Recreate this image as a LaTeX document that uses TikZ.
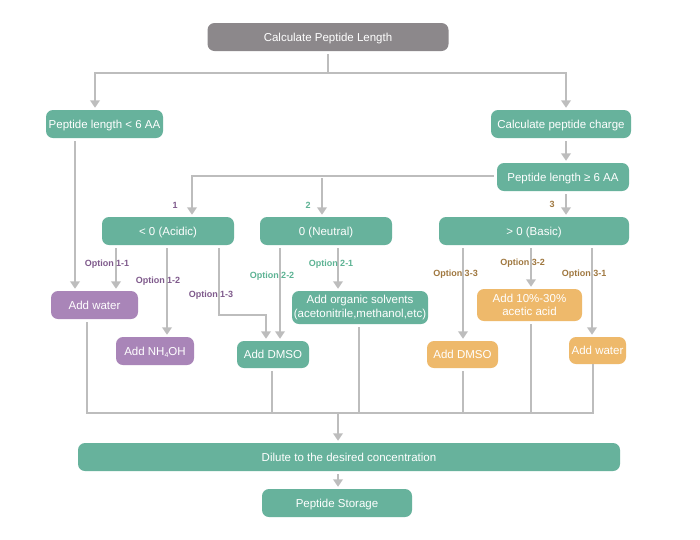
\documentclass[tikz,border=0pt]{standalone}
\usepackage{fontspec}
\setmainfont{Liberation Sans}
\usetikzlibrary{arrows.meta}
\definecolor{cgreen}{HTML}{67B29C}
\definecolor{cpurple}{HTML}{A985B8}
\definecolor{corange}{HTML}{EEB96B}
\definecolor{cgray}{HTML}{8C888B}
\definecolor{cline}{HTML}{BDBDBD}
\definecolor{tpurple}{HTML}{7F5A8C}
\definecolor{tgreen}{HTML}{5DB394}
\definecolor{tbrown}{HTML}{A07840}
\begin{document}
\begin{tikzpicture}[x=1pt,y=-1pt,
  box/.style={rounded corners=7pt, inner sep=0pt, text=white, font=\fontsize{11.5}{13.5}\selectfont, align=center, minimum height=28pt},
  oneline/.style={text height=9.5pt, text depth=1.3pt},
  gbox/.style={box, fill=cgreen},
  pbox/.style={box, fill=cpurple},
  obox/.style={box, fill=corange},
  graybox/.style={box, fill=cgray},
  ln/.style={draw=cline, line width=2.8pt, shorten <=3pt},
  arr/.style={ln, -{Triangle[width=9.5pt,length=7.5pt]}, shorten >=2pt},
  lab/.style={font=\fontsize{9}{10}\bfseries\selectfont, inner sep=0pt}]
\fill[white] (0,0) rectangle (700,539);
\useasboundingbox (0,0) rectangle (700,539);

% nodes
\node[graybox, oneline, minimum width=241pt] (top) at (328,37) {Calculate Peptide Length};
\node[gbox, oneline, minimum width=117pt] (lt6) at (104.5,124) {Peptide length < 6 AA};
\node[gbox, oneline, minimum width=140pt] (charge) at (561,124) {Calculate peptide charge};
\node[gbox, oneline, minimum width=132pt] (ge6) at (563,177) {Peptide length ≥ 6 AA};
\node[gbox, oneline, minimum width=132pt] (acidic) at (168,231) {< 0 (Acidic)};
\node[gbox, oneline, minimum width=132pt] (neutral) at (326,231) {0 (Neutral)};
\node[gbox, oneline, minimum width=190pt] (basic) at (534,231) {> 0 (Basic)};
\node[pbox, oneline, minimum width=87pt] (water1) at (94.5,305) {Add water};
\node[pbox, oneline, minimum width=78pt] (nh4oh) at (155,351) {Add NH\raisebox{-0.35ex}{\fontsize{7}{8}\selectfont 4}OH};
\node[gbox, oneline, minimum width=72pt, minimum height=27pt] (dmso1) at (273,354.5) {Add DMSO};
\node[gbox, minimum width=136pt, minimum height=33pt] (organic) at (360,307.5) {Add organic solvents\\(acetonitrile,methanol,etc)};
\node[obox, oneline, minimum width=71pt, minimum height=27pt] (dmso3) at (462.5,354.5) {Add DMSO};
\node[obox, minimum width=105pt, minimum height=32pt] (acetic) at (529.5,305) {Add 10\%-30\%\\acetic acid};
\node[obox, oneline, minimum width=57pt, minimum height=27pt] (water3) at (597.5,350.5) {Add water};
\node[gbox, oneline, minimum width=542pt] (dilute) at (349,457) {Dilute to the desired concentration};
\node[gbox, oneline, minimum width=150pt] (storage) at (337,503) {Peptide Storage};

% coordinates
\coordinate (j1) at (328,73);
\coordinate (j2) at (322,178);
\coordinate (c13) at (266,315);
\coordinate (b1) at (87,413);
\coordinate (b2) at (272,413);
\coordinate (b3) at (359,413);
\coordinate (b4) at (463,413);
\coordinate (b5) at (531,413);
\coordinate (b6) at (593,413);
\coordinate (bm) at (338,413);

% connectors
\draw[ln] (top.south) -- (j1);
\draw[arr, shorten <=0pt] (j1) -| ([xshift=-9.5pt]lt6.north);
\draw[arr, shorten <=0pt] (j1) -| ([xshift=5pt]charge.north);
\draw[arr] ([xshift=5pt]charge.south) -- ([xshift=3pt]ge6.north);
\draw[arr] ([yshift=1pt]ge6.west) -| ([xshift=24pt]acidic.north);
\draw[arr, shorten <=0pt] (j2) -- ([xshift=-4pt]neutral.north);
\draw[arr] ([xshift=3pt]ge6.south) -- ([xshift=32pt]basic.north);
\draw[arr] ([xshift=-29.5pt]lt6.south) -- ([xshift=-19.5pt]water1.north);
\draw[arr] ([xshift=-52pt]acidic.south) -- ([xshift=21.5pt]water1.north);
\draw[arr] ([xshift=-1pt]acidic.south) -- ([xshift=12pt]nh4oh.north);
\draw[arr] ([xshift=51pt]acidic.south) |- (c13) -- ([xshift=-7pt]dmso1.north);
\draw[arr] ([xshift=-46pt]neutral.south) -- ([xshift=7pt]dmso1.north);
\draw[arr] ([xshift=12pt]neutral.south) -- ([xshift=-22pt]organic.north);
\draw[arr] ([xshift=-71pt]basic.south) -- ([xshift=0.5pt]dmso3.north);
\draw[arr] ([xshift=-3pt]basic.south) -- ([xshift=1.5pt]acetic.north);
\draw[arr] ([xshift=58pt]basic.south) -- ([xshift=-5.5pt]water3.north);
\draw[ln] ([xshift=-7.5pt]water1.south) -- (b1) -- (b6) -- ([xshift=-4.5pt]water3.south);
\draw[ln] ([xshift=-1pt]dmso1.south) -- (b2);
\draw[ln] ([xshift=-1pt]organic.south) -- (b3);
\draw[ln] ([xshift=0.5pt]dmso3.south) -- (b4);
\draw[ln] ([xshift=1.5pt]acetic.south) -- (b5);
\draw[arr, shorten <=0pt] (bm) -- ([xshift=-11pt]dilute.north);
\draw[arr] ([xshift=-11pt]dilute.south) -- ([xshift=1pt]storage.north);

% labels
\node[lab, text=tpurple] (n1) at (175,205) {1};
\node[lab, text=tgreen] (n2) at (308,205) {2};
\node[lab, text=tbrown] (n3) at (552,204) {3};
\node[lab, text=tpurple] (o11) at (107,264) {Option 1-1};
\node[lab, text=tpurple] (o12) at (158,281) {Option 1-2};
\node[lab, text=tpurple] (o13) at (211,295) {Option 1-3};
\node[lab, text=tgreen] (o22) at (272,276) {Option 2-2};
\node[lab, text=tgreen] (o21) at (331,264) {Option 2-1};
\node[lab, text=tbrown] (o33) at (455.5,274) {Option 3-3};
\node[lab, text=tbrown] (o32) at (522.5,263) {Option 3-2};
\node[lab, text=tbrown] (o31) at (584,274) {Option 3-1};
\end{tikzpicture}
\end{document}
